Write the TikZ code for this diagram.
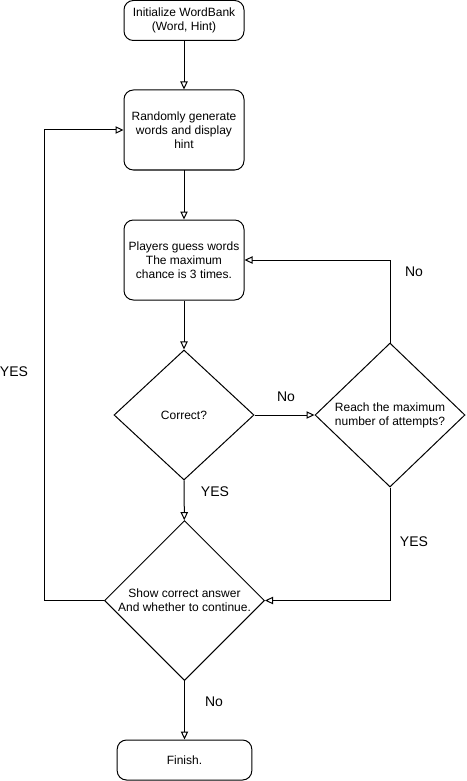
\documentclass[tikz,border=0pt]{standalone}
\usepackage{fontspec}
\setmainfont{Liberation Sans}
\usetikzlibrary{shapes.geometric,arrows.meta}

\begin{document}
\begin{tikzpicture}[x=0.75pt,y=-0.75pt,line width=0.75pt,
    box/.style={draw=black,fill=white,rounded corners=7pt,align=center,
      minimum width=90pt,minimum height=30pt,inner sep=2pt,font=\fontsize{9}{10.5}\selectfont},
    decision/.style={draw=black,fill=white,diamond,align=center,inner sep=0pt,
      font=\fontsize{9}{10.5}\selectfont},
    flow/.style={draw=black,-{Triangle[open,length=6pt,width=5.5pt]}},
    answer/.style={font=\fontsize{10.5}{12}\selectfont}]
    \useasboundingbox[fill=white] (0,0) rectangle (467,781);
    % boxes
    \node[box] (init) at (184,20.5) {Initialize WordBank\\(Word, Hint)};
    \node[box,minimum height=60pt] (rand) at (184,130) {Randomly generate\\words and display\\hint};
    \node[box,minimum height=60pt] (guess) at (184,260) {Players guess words\\The maximum\\chance is 3 times.};
    \node[decision,minimum width=105pt,minimum height=97.5pt] (correct) at (184,415) {Correct?};
    \node[decision,minimum width=112.5pt,minimum height=108pt] (reach) at (390,415) {Reach the maximum\\number of attempts?};
    \node[decision,minimum width=120pt,minimum height=120pt] (show) at (184.5,600.5) {Show correct answer\\And whether to continue.};
    \node[box,minimum width=101pt] (finish) at (184.5,760) {Finish.};
    \coordinate (loop) at (44,600.5);
    % arrows
    \path[flow] (init) -- (rand);
    \path[flow] (rand) -- (guess);
    \path[flow] (guess) -- (correct);
    \path[flow] (correct) -- (reach);
    \path[flow] (reach.north) |- (guess.east);
    \path[flow] (reach.south) |- (show.east);
    \path[flow] (correct) -- (show);
    \path[flow] (show.west) -- (loop) |- (rand.west);
    \path[flow] (show) -- (finish);
    % answers
    \node[answer] (noright) at (286,397) {No};
    \node[answer] (noback) at (414,272) {No};
    \node[answer] (yesmax) at (414,542) {YES};
    \node[answer] (yesok) at (215,492) {YES};
    \node[answer] (yesagain) at (14,372) {YES};
    \node[answer] (noend) at (214,702) {No};
  \end{tikzpicture}
\end{document}
